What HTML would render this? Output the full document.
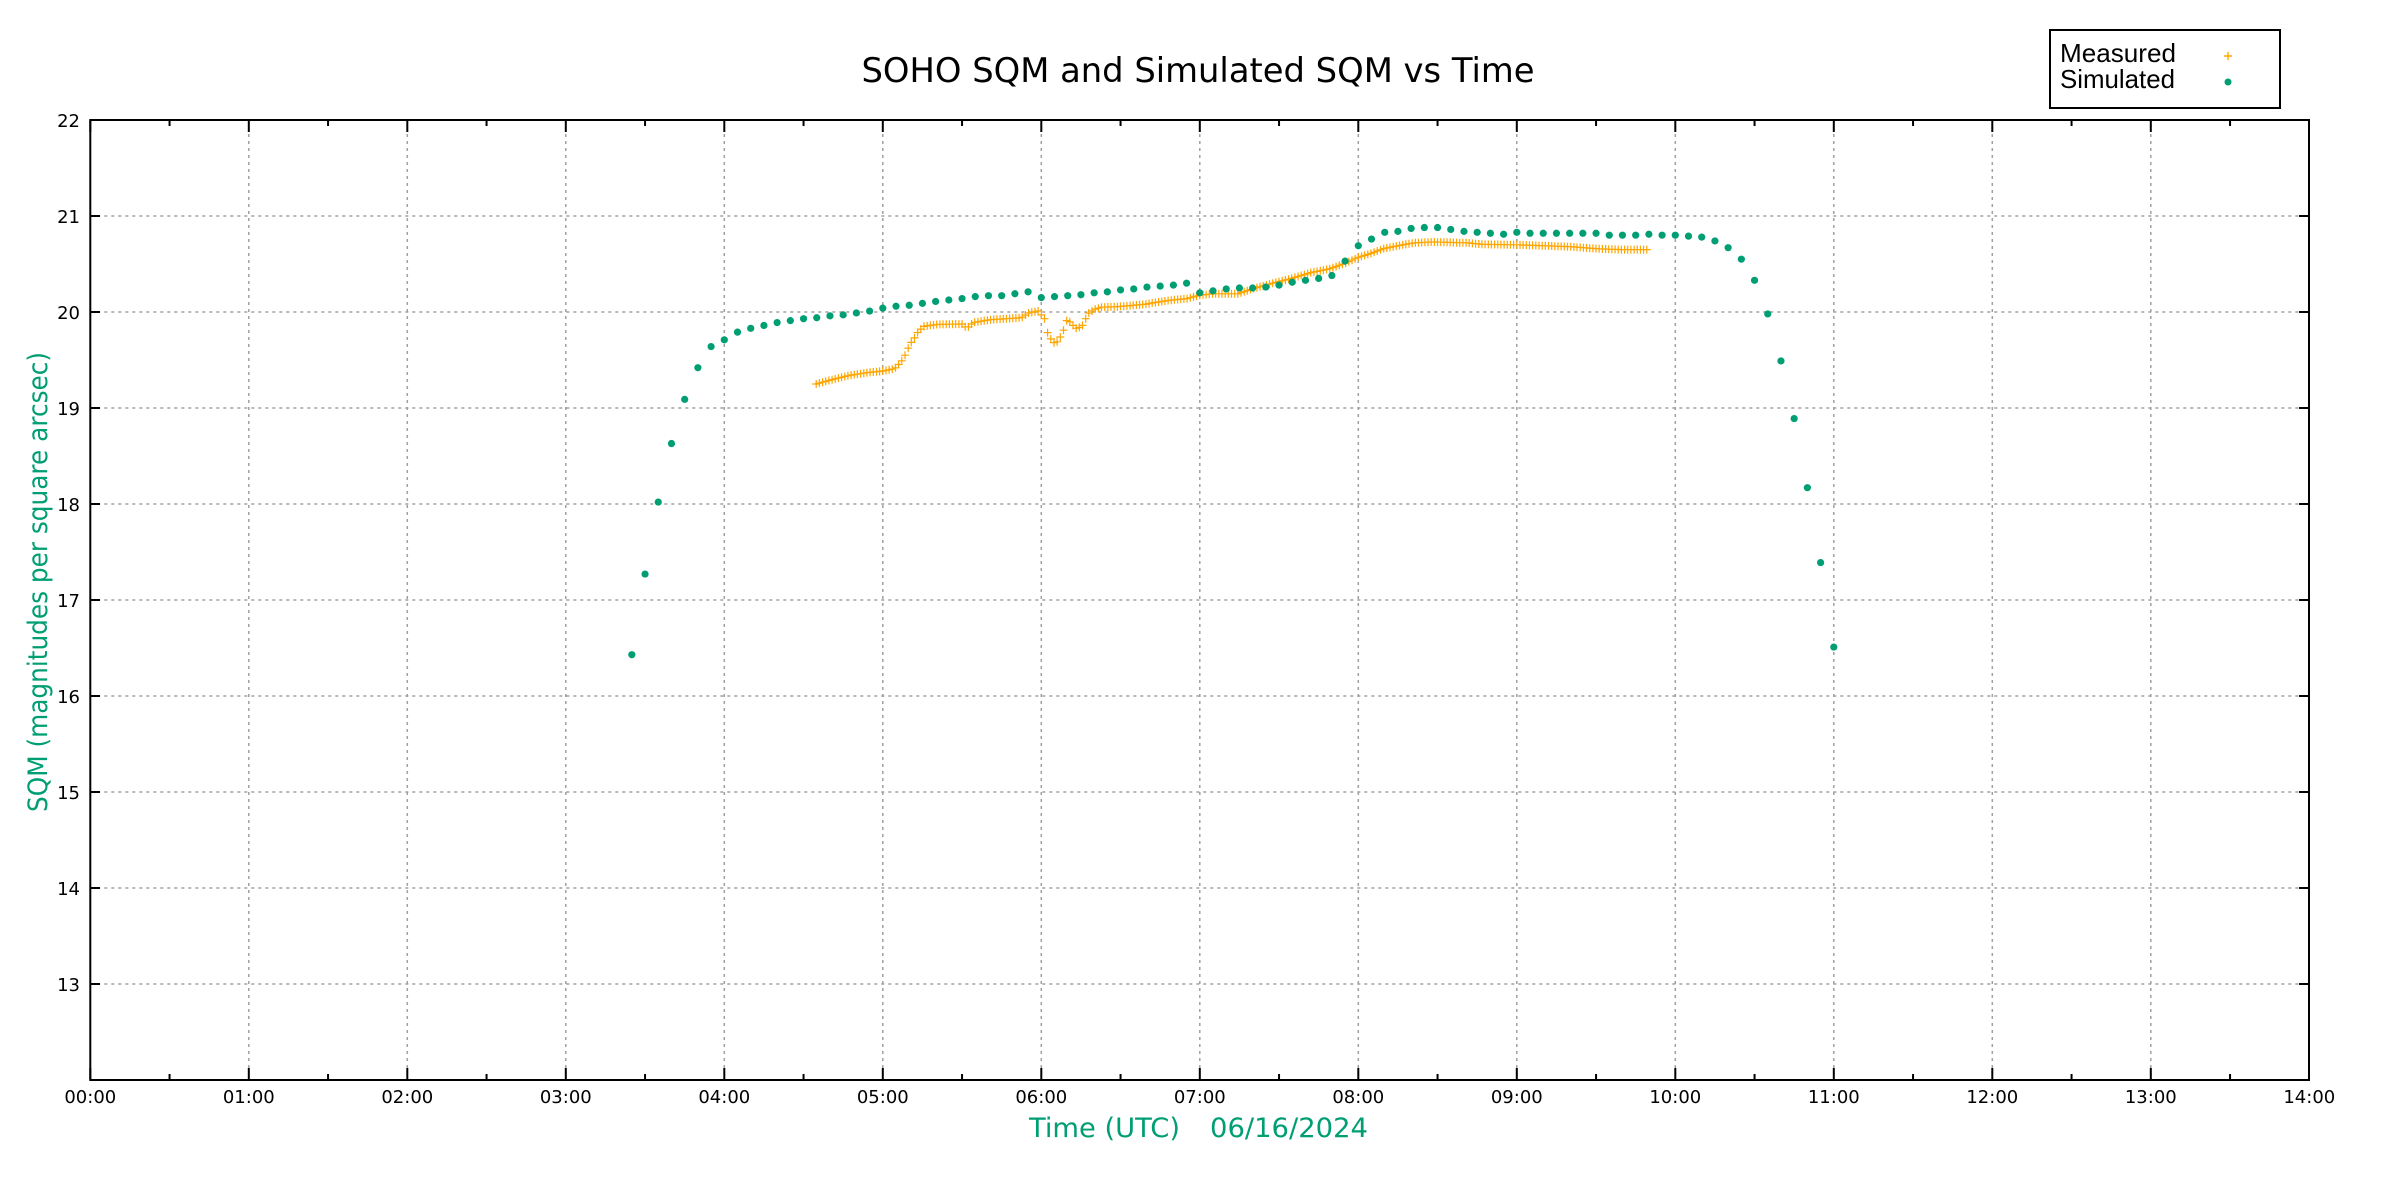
<!DOCTYPE html>
<html><head><meta charset="utf-8"><style>html,body{margin:0;padding:0;background:#fff;}svg{display:block}</style></head>
<body>
<svg id="s" width="2400" height="1200" xmlns="http://www.w3.org/2000/svg">
<rect width="2400" height="1200" fill="#fff"/>
<text x="1198" y="82" font-family="DejaVu Sans, sans-serif" font-size="34" text-anchor="middle" textLength="673" lengthAdjust="spacingAndGlyphs">SOHO SQM and Simulated SQM vs Time</text>
<g id="grid" stroke="#a0a0a0" stroke-width="1.5" stroke-dasharray="3,4" fill="none"></g>
<g id="ticks" stroke="#000" stroke-width="2"></g>
<g id="labels" font-family="DejaVu Sans, sans-serif" font-size="18" fill="#000"></g>
<rect x="90.3" y="120" width="2218.7" height="960" fill="none" stroke="#000" stroke-width="2"/>
<g id="meas" stroke="#ffa500" stroke-width="1.2"></g>
<g id="sim" fill="#009e73"></g>
<text transform="translate(47,582) rotate(-90)" font-family="DejaVu Sans, sans-serif" font-size="27" fill="#009e73" text-anchor="middle" textLength="460" lengthAdjust="spacingAndGlyphs">SQM (magnitudes per square arcsec)</text>
<text x="1029" y="1137" font-family="DejaVu Sans, sans-serif" font-size="27" fill="#009e73" textLength="151" lengthAdjust="spacingAndGlyphs">Time (UTC)</text>
<text x="1210" y="1137" font-family="DejaVu Sans, sans-serif" font-size="27" fill="#009e73" textLength="158" lengthAdjust="spacingAndGlyphs">06/16/2024</text>
<rect x="2050" y="30" width="230" height="78" fill="#fff" stroke="#000" stroke-width="2"/>
<text x="2060" y="62" font-family="Liberation Sans, sans-serif" font-size="26" textLength="116" lengthAdjust="spacingAndGlyphs">Measured</text>
<text x="2060" y="88" font-family="Liberation Sans, sans-serif" font-size="26" textLength="115" lengthAdjust="spacingAndGlyphs">Simulated</text>
<path d="M2224 56h8M2228 52v8" stroke="#ffa500" stroke-width="1.4"/>
<circle cx="2228" cy="82" r="3.5" fill="#009e73"/>
</svg>
<script>
var NS="http://www.w3.org/2000/svg";
function X(t){return 90.3+t*158.5;}
function Y(v){return 120+(22-v)*96;}
function el(p,tag,a,txt){var e=document.createElementNS(NS,tag);for(var k in a)e.setAttribute(k,a[k]);if(txt!==undefined)e.textContent=txt;document.getElementById(p).appendChild(e);}
for(var h=1;h<14;h++)el("grid","line",{x1:X(h),x2:X(h),y1:120,y2:1080});
for(var v=13;v<22;v++)el("grid","line",{x1:90.3,x2:2309,y1:Y(v),y2:Y(v)});
for(var i=0;i<28;i++){var t=i/2,L=(i%2==0)?12:6,x=X(t);
 el("ticks","line",{x1:x,x2:x,y1:1080,y2:1080-L});el("ticks","line",{x1:x,x2:x,y1:120,y2:120+L});}
for(var h=0;h<=14;h++){el("labels","text",{x:X(h),y:1103,"text-anchor":"middle"},(h<10?"0":"")+h+":00");}
for(var v=13;v<=22;v++){var y=Y(v);el("ticks","line",{x1:90.3,x2:100,y1:y,y2:y});el("ticks","line",{x1:2299,x2:2309,y1:y,y2:y});
 el("labels","text",{x:80,y:y+7,"text-anchor":"end"},""+v);}
var sim=[16.43,17.27,18.02,18.63,19.09,19.42,19.64,
19.71,19.79,19.83,19.86,19.89,19.91,19.93,19.94,19.96,19.97,19.99,20.01,
20.04,20.06,20.07,20.09,20.11,20.125,20.14,20.16,20.17,20.17,20.19,20.21,
20.15,20.16,20.17,20.18,20.20,20.21,20.23,20.24,20.26,20.27,20.28,20.30,
20.20,20.22,20.24,20.25,20.25,20.26,20.28,20.31,20.33,20.35,20.38,20.53,
20.69,20.76,20.83,20.84,20.87,20.88,20.88,20.86,20.84,20.83,20.82,20.81,
20.83,20.82,20.82,20.82,20.82,20.82,20.82,20.80,20.80,20.80,20.81,20.80,
20.80,20.79,20.78,20.74,20.67,20.55,20.33,19.98,19.49,18.89,18.17,17.39,16.51];
var kp=[[4.58,19.25],[4.667,19.29],[4.79,19.34],[4.91,19.37],[5.0,19.385],[5.075,19.41],[5.116,19.48],[5.14,19.55],[5.17,19.66],[5.2,19.73],[5.225,19.80],[5.26,19.85],[5.34,19.87],[5.5,19.875],[5.53,19.83],[5.57,19.89],[5.68,19.92],[5.875,19.94],[5.92,19.99],[5.98,20.01],[6.02,19.93],[6.03,19.83],[6.05,19.74],[6.08,19.68],[6.1,19.69],[6.12,19.74],[6.14,19.81],[6.16,19.91],[6.19,19.89],[6.21,19.83],[6.23,19.83],[6.26,19.86],[6.28,19.93],[6.3,19.99],[6.34,20.03],[6.38,20.05],[6.48,20.055],[6.65,20.08],[6.8,20.12],[6.92,20.14],[7.0,20.175],[7.09,20.19],[7.24,20.19],[7.33,20.24],[7.46,20.30],[7.58,20.35],[7.70,20.41],[7.82,20.45],[7.92,20.51],[8.0,20.57],[8.08,20.61],[8.16,20.66],[8.25,20.69],[8.35,20.72],[8.47,20.73],[8.69,20.72],[8.78,20.705],[9.0,20.70],[9.34,20.68],[9.5,20.66],[9.65,20.65],[9.83,20.65]];
function interp(t){for(var i=0;i<kp.length-1;i++){if(t<=kp[i+1][0]){var a=kp[i],b=kp[i+1],f=(t-a[0])/(b[0]-a[0]);return a[1]+f*(b[1]-a[1]);}}return kp[kp.length-1][1];}
var d="";for(var t=4.58;t<=9.831;t+=1.2/60){var x=X(t),y=Y(interp(t));d+="M"+(x-4).toFixed(1)+" "+y.toFixed(1)+"h8M"+x.toFixed(1)+" "+(y-4).toFixed(1)+"v8";}
el("meas","path",{d:d,fill:"none"});
for(var i=0;i<sim.length;i++){var t=3.41667+i/12;el("sim","circle",{cx:X(t),cy:Y(sim[i]),r:3.6});}
</script>
</body></html>
